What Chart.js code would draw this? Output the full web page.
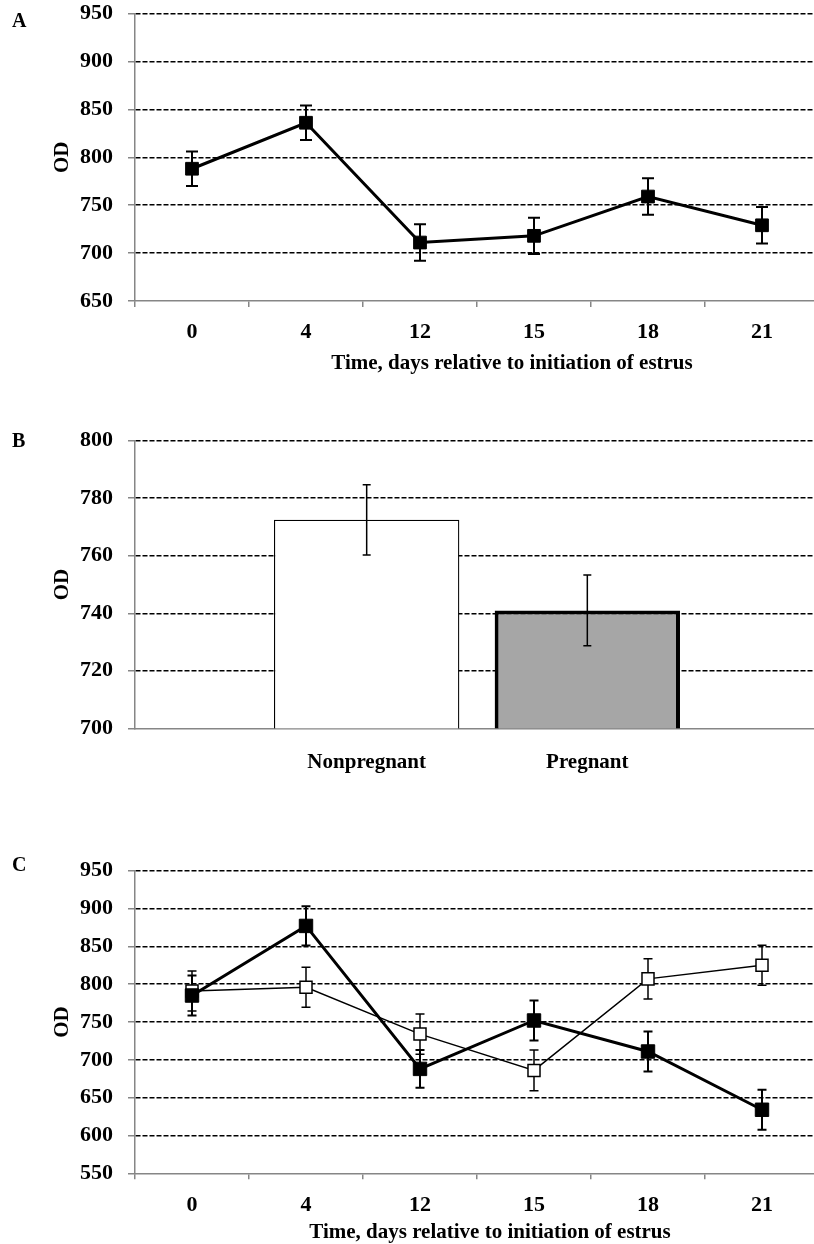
<!DOCTYPE html>
<html>
<head>
<meta charset="utf-8">
<script src="https://cdn.jsdelivr.net/npm/chart.js@4.4.1/dist/chart.umd.min.js"></script>
<style>
html,body{margin:0;padding:0;background:#fff;overflow:hidden;width:814px;height:1244px;}
canvas{position:absolute;left:0;}
</style>
</head>
<body>
<canvas id="cA" width="830" height="380" style="top:0px"></canvas>
<canvas id="cB" width="830" height="420" style="top:380px"></canvas>
<canvas id="cC" width="830" height="444" style="top:800px"></canvas>
<script>
// ---- data ----
const days = ['0', '4', '12', '15', '18', '21'];
const aMean = [788, 836, 711, 718, 759, 729];
const aErr = [18, 18, 19, 19, 19, 19];
const aYTicks = [650, 700, 750, 800, 850, 900, 950];

const bCats = ['Nonpregnant', 'Pregnant'];
const bMean = [772.5, 741];
const bErr = [12.2, 12.3];
const bYTicks = [700, 720, 740, 760, 780, 800];

const cFilled = [785, 877, 688, 752, 711, 634];
const cFilledErr = [26.5, 26, 25, 26.5, 26.5, 26.5];
const cOpen = [791, 796, 734, 686, 807, 825];
const cOpenErr = [26.5, 26.5, 26.5, 27, 26.5, 26.5];
const cYTicks = [550, 600, 650, 700, 750, 800, 850, 900, 950];

const xTitleText = 'Time, days relative to initiation of estrus';
const yTitleText = 'OD';

// ---- styling ----
const SERIF = "'Liberation Serif', 'Times New Roman', serif";
Chart.defaults.font.family = SERIF;
Chart.defaults.color = '#000';
const AXIS = '#868686';

const errorBars = {
  id: 'errorBars',
  draw(chart, top) {
    const ctx = chart.ctx, ys = chart.scales.y;
    chart.data.datasets.forEach((ds, i) => {
      if (!ds.errors || (!!ds.errOnTop) !== top) return;
      const meta = chart.getDatasetMeta(i);
      ctx.save();
      ctx.strokeStyle = '#000';
      ctx.lineWidth = ds.errWidth || 1.5;
      meta.data.forEach((el, j) => {
        const raw = ds.data[j];
        const v = typeof raw === 'object' ? raw.y : raw;
        const x = el.x;
        const t = ys.getPixelForValue(v + ds.errors[j]);
        const b = ys.getPixelForValue(v - ds.errors[j]);
        const c = ds.capHalf || 4;
        ctx.beginPath();
        ctx.moveTo(x, t); ctx.lineTo(x, b);
        ctx.moveTo(x - c, t); ctx.lineTo(x + c, t);
        ctx.moveTo(x - c, b); ctx.lineTo(x + c, b);
        ctx.stroke();
      });
      ctx.restore();
    });
  },
  beforeDatasetsDraw(chart) { this.draw(chart, false); },
  afterDatasetsDraw(chart) { this.draw(chart, true); }
};

function textPlugin(letter, lx, ly, title, tx, ty) {
  return {
    id: 'panelText',
    afterDraw(chart) {
      const ctx = chart.ctx;
      ctx.save();
      ctx.fillStyle = '#000';
      ctx.font = "bold 20px " + SERIF;
      ctx.textAlign = 'left';
      ctx.textBaseline = 'alphabetic';
      ctx.fillText(letter, lx, ly);
      if (title) {
        ctx.font = "bold 21px " + SERIF;
        ctx.textAlign = 'center';
        ctx.textBaseline = 'middle';
        ctx.fillText(title, tx, ty);
      }
      ctx.restore();
    }
  };
}

function yScale(tickVals) {
  return {
    type: 'linear',
    min: tickVals[0],
    max: tickVals[tickVals.length - 1],
    beginAtZero: false,
    afterBuildTicks: s => { s.ticks = tickVals.map(v => ({ value: v })); },
    afterFit: s => { s.width = 135; s.paddingTop = 0; s.paddingBottom = 0; },
    ticks: { font: { size: 22, weight: 'bold' }, color: '#000', padding: 15 },
    grid: {
      color: c => (c.tick && c.tick.value === tickVals[0]) ? 'rgba(0,0,0,0)' : '#000',
      lineWidth: 1.5,
      tickLength: 7,
      tickColor: AXIS,
      tickWidth: 1.5,
      tickBorderDash: []
    },
    border: { display: true, color: AXIS, width: 1.5, dash: [5, 2] },
    title: { display: true, text: yTitleText, font: { size: 21, weight: 'bold' }, color: '#000', padding: { top: 50, bottom: 0 } }
  };
}

function xCatScale(height, pad) {
  return {
    type: 'category',
    offset: true,
    grid: { offset: true, drawOnChartArea: false, drawTicks: true, tickLength: 6, color: AXIS, lineWidth: 1.5 },
    border: { display: true, color: AXIS, width: 1.5 },
    ticks: { font: { size: 22, weight: 'bold' }, color: '#000', padding: pad, maxRotation: 0, autoSkip: false },
    afterFit: s => { s.height = height; }
  };
}

const common = {
  responsive: false,
  animation: false,
  events: [],
  plugins: { legend: { display: false }, tooltip: { enabled: false } }
};

// ---- Panel A ----
new Chart(document.getElementById('cA'), {
  type: 'line',
  data: {
    labels: days,
    datasets: [{
      data: aMean,
      borderColor: '#000', borderWidth: 3, tension: 0,
      pointStyle: 'rect', pointRadius: 9,
      pointBackgroundColor: '#000', pointBorderColor: '#000', pointBorderWidth: 1,
      errors: aErr, errWidth: 2, capHalf: 6
    }]
  },
  options: Object.assign({}, common, {
    layout: { padding: { top: 13.5, right: 11, left: 0, bottom: 0 } },
    scales: { x: xCatScale(79, 12), y: yScale(aYTicks) }
  }),
  plugins: [errorBars, textPlugin('A', 12, 27, xTitleText, 512, 364)]
});

// ---- Panel B ----
new Chart(document.getElementById('cB'), {
  type: 'bar',
  data: {
    datasets: [{
      data: bMean.map((v, i) => ({ x: i + 1, y: v })),
      backgroundColor: ['#ffffff', '#a6a6a6'],
      borderColor: '#000',
      borderWidth: [1.3, 4],
      borderSkipped: false,
      categoryPercentage: 1,
      barPercentage: 0.84,
      errors: bErr, errWidth: 1.5, capHalf: 4, errOnTop: true
    }]
  },
  options: Object.assign({}, common, {
    layout: { padding: { top: 60.7, right: 11, left: 0, bottom: 0 } },
    scales: {
      x: {
        type: 'linear', min: -0.05, max: 3.05, offset: false,
        afterBuildTicks: s => { s.ticks = bCats.map((_, i) => ({ value: i + 1 })); },
        ticks: { callback: (v, i) => bCats[i], font: { size: 21, weight: 'bold' }, color: '#000', padding: 21.4, maxRotation: 0, autoSkip: false },
        grid: { display: false, drawTicks: false, offset: false },
        border: { display: true, color: AXIS, width: 1.5 },
        afterFit: s => { s.height = 71.7; s.paddingLeft = 0; s.paddingRight = 0; }
      },
      y: yScale(bYTicks)
    }
  }),
  plugins: [errorBars, textPlugin('B', 12, 67, null, 0, 0)]
});

// ---- Panel C ----
new Chart(document.getElementById('cC'), {
  type: 'line',
  data: {
    labels: days,
    datasets: [{
      data: cFilled,
      borderColor: '#000', borderWidth: 3, tension: 0,
      pointStyle: 'rect', pointRadius: 9.5,
      pointBackgroundColor: '#000', pointBorderColor: '#000', pointBorderWidth: 1,
      errors: cFilledErr, errWidth: 2, capHalf: 4.5
    }, {
      data: cOpen,
      borderColor: '#000', borderWidth: 1.5, tension: 0,
      pointStyle: 'rect', pointRadius: 8.5,
      pointBackgroundColor: '#fff', pointBorderColor: '#000', pointBorderWidth: 1.5,
      errors: cOpenErr, errWidth: 1.5, capHalf: 4.5
    }]
  },
  options: Object.assign({}, common, {
    layout: { padding: { top: 70.7, right: 11, left: 0, bottom: 0 } },
    scales: { x: xCatScale(70.7, 13), y: yScale(cYTicks) }
  }),
  plugins: [errorBars, textPlugin('C', 12, 71, xTitleText, 490, 433)]
});
</script>
</body>
</html>
